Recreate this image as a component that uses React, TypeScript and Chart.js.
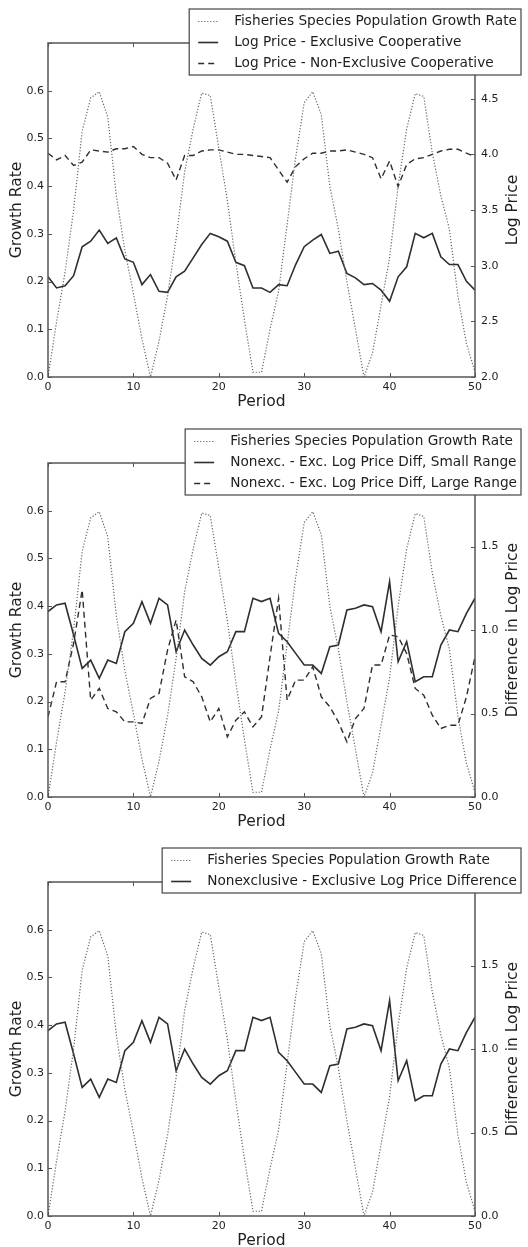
import React, { useEffect, useRef } from 'react';
import { Chart, registerables } from 'chart.js';

Chart.register(...registerables);

// ---------- data ----------
const periods = [0, 1, 2, 3, 4, 5, 6, 7, 8, 9, 10, 11, 12, 13, 14, 15, 16, 17, 18, 19, 20, 21, 22, 23, 24, 25, 26, 27, 28, 29, 30, 31, 32, 33, 34, 35, 36, 37, 38, 39, 40, 41, 42, 43, 44, 45, 46, 47, 48, 49, 50];

const growthRate = [0.0, 0.115, 0.22, 0.35, 0.515, 0.585, 0.598, 0.545, 0.38, 0.265, 0.175, 0.08, 0.0, 0.075, 0.17, 0.29, 0.43, 0.52, 0.595, 0.59, 0.48, 0.37, 0.24, 0.12, 0.01, 0.01, 0.1, 0.18, 0.32, 0.46, 0.575, 0.598, 0.55, 0.4, 0.31, 0.2, 0.1, 0.0, 0.05, 0.15, 0.25, 0.4, 0.52, 0.594, 0.588, 0.47, 0.38, 0.31, 0.17, 0.07, 0.01];

const logPriceExclusive = [2.9, 2.8, 2.82, 2.91, 3.17, 3.22, 3.32, 3.2, 3.25, 3.06, 3.03, 2.83, 2.92, 2.77, 2.76, 2.9, 2.95, 3.07, 3.19, 3.29, 3.26, 3.22, 3.03, 3.0, 2.8, 2.8, 2.76, 2.83, 2.82, 3.01, 3.17, 3.23, 3.28, 3.11, 3.13, 2.93, 2.89, 2.83, 2.84, 2.78, 2.68, 2.9, 2.99, 3.29, 3.25, 3.29, 3.08, 3.01, 3.01, 2.86, 2.78];

const logPriceNonExclusive = [4.01, 3.95, 3.99, 3.9, 3.93, 4.04, 4.03, 4.02, 4.05, 4.05, 4.07, 4.0, 3.97, 3.97, 3.92, 3.77, 3.99, 3.99, 4.03, 4.04, 4.04, 4.02, 4.0, 4.0, 3.99, 3.98, 3.97, 3.86, 3.75, 3.89, 3.96, 4.01, 4.01, 4.03, 4.03, 4.04, 4.02, 4.0, 3.97, 3.78, 3.94, 3.71, 3.91, 3.96, 3.97, 4.0, 4.03, 4.045, 4.045, 4.01, 3.98];

const diffSmallRange = [1.11, 1.15, 1.16, 0.97, 0.77, 0.82, 0.71, 0.82, 0.8, 0.99, 1.04, 1.17, 1.04, 1.19, 1.15, 0.87, 1.0, 0.91, 0.83, 0.79, 0.84, 0.87, 0.99, 0.99, 1.19, 1.17, 1.19, 0.98, 0.93, 0.86, 0.79, 0.79, 0.74, 0.9, 0.91, 1.12, 1.13, 1.15, 1.14, 0.99, 1.29, 0.81, 0.93, 0.69, 0.72, 0.72, 0.91, 1.0, 0.99, 1.1, 1.19];

const diffLargeRange = [0.48, 0.69, 0.69, 0.92, 1.24, 0.58, 0.65, 0.53, 0.51, 0.45, 0.45, 0.44, 0.59, 0.62, 0.88, 1.06, 0.72, 0.69, 0.6, 0.45, 0.53, 0.36, 0.46, 0.51, 0.42, 0.48, 0.84, 1.19, 0.58, 0.7, 0.7, 0.78, 0.6, 0.54, 0.45, 0.33, 0.47, 0.53, 0.79, 0.79, 0.97, 0.96, 0.86, 0.65, 0.61, 0.49, 0.41, 0.43, 0.43, 0.6, 0.84];

const growthLabel = 'Fisheries Species Population Growth Rate';
const panel1Labels = ['Log Price - Exclusive Cooperative', 'Log Price - Non-Exclusive Cooperative'];
const panel2Labels = ['Nonexc. - Exc. Log Price Diff, Small Range', 'Nonexc. - Exc. Log Price Diff, Large Range'];
const panel3Labels = ['Nonexclusive - Exclusive Log Price Difference'];

const xAxisTitle = 'Period';
const leftAxisTitle = 'Growth Rate';
const rightTitles = ['Log Price', 'Difference in Log Price', 'Difference in Log Price'];

// ---------- styles ----------
const FONT = '"DejaVu Sans", "Liberation Sans", sans-serif';
const TEXT = '#1e1e1e';
const SPINE = '#555555';
const LINE = '#2e2e2e';
const DOT = '#666666';

type Style = 'dotted' | 'solid' | 'dashed';
const dashFor = (s: Style) => (s === 'dotted' ? [1.2, 1.8] : s === 'dashed' ? [6, 4] : []);
const colorFor = (s: Style) => (s === 'dotted' ? DOT : LINE);
const widthFor = (s: Style) => (s === 'dotted' ? 1.2 : s === 'dashed' ? 1.4 : 1.6);

type Series = { label: string; values: number[]; style: Style; axis: 'y' | 'y1' };

type PanelProps = {
  top: number;
  height: number;
  series: Series[];
  rightMin: number;
  rightMax: number;
  rightTitle: string;
};

function overlayPlugin(series: Series[], rightTitle: string) {
  return {
    id: 'overlay',
    afterDraw(chart: any) {
      const { ctx, chartArea: a, scales } = chart;
      ctx.save();
      // inward tick marks
      ctx.strokeStyle = SPINE;
      ctx.lineWidth = 1;
      ctx.setLineDash([]);
      const seg = (x1: number, y1: number, x2: number, y2: number) => {
        ctx.beginPath();
        ctx.moveTo(x1, y1);
        ctx.lineTo(x2, y2);
        ctx.stroke();
      };
      scales.x.ticks.forEach((t: any) => {
        const px = Math.round(scales.x.getPixelForValue(t.value)) + 0.5;
        seg(px, a.bottom, px, a.bottom - 4);
        seg(px, a.top, px, a.top + 4);
      });
      scales.y.ticks.forEach((t: any) => {
        const py = Math.round(scales.y.getPixelForValue(t.value)) + 0.5;
        seg(a.left, py, a.left + 4, py);
      });
      scales.y1.ticks.forEach((t: any) => {
        const py = Math.round(scales.y1.getPixelForValue(t.value)) + 0.5;
        seg(a.right, py, a.right - 4, py);
      });
      // spines
      ctx.lineWidth = 1.5;
      ctx.strokeRect(a.left, a.top, a.right - a.left, a.bottom - a.top);

      // axis titles
      ctx.fillStyle = TEXT;
      ctx.font = `15.5px ${FONT}`;
      ctx.textAlign = 'center';
      ctx.textBaseline = 'middle';
      ctx.fillText(xAxisTitle, (a.left + a.right) / 2, a.bottom + 25);
      const cy = (a.top + a.bottom) / 2;
      ctx.save();
      ctx.translate(17, cy);
      ctx.rotate(-Math.PI / 2);
      ctx.fillText(leftAxisTitle, 0, 0);
      ctx.restore();
      ctx.save();
      ctx.translate(513, cy);
      ctx.rotate(-Math.PI / 2);
      ctx.fillText(rightTitle, 0, 0);
      ctx.restore();

      // legend
      ctx.font = `13.7px ${FONT}`;
      const tw = Math.max(...series.map((s) => ctx.measureText(s.label).width));
      const right = 521;
      const left = right - (tw + 49);
      const boxTop = a.top - 34;
      const boxH = 24 + 21 * (series.length - 1);
      ctx.fillStyle = '#ffffff';
      ctx.fillRect(left, boxTop, right - left, boxH);
      ctx.strokeStyle = '#444444';
      ctx.lineWidth = 1.2;
      ctx.strokeRect(left, boxTop, right - left, boxH);
      series.forEach((s, i) => {
        const y = boxTop + 12 + 21 * i;
        ctx.strokeStyle = colorFor(s.style);
        ctx.lineWidth = widthFor(s.style);
        ctx.setLineDash(dashFor(s.style));
        ctx.beginPath();
        ctx.moveTo(left + 9, y + 0.5);
        ctx.lineTo(left + 29, y + 0.5);
        ctx.stroke();
        ctx.setLineDash([]);
        ctx.fillStyle = TEXT;
        ctx.textAlign = 'left';
        ctx.textBaseline = 'middle';
        ctx.fillText(s.label, left + 45, y);
      });
      ctx.restore();
    },
  };
}

function Panel({ top, height, series, rightMin, rightMax, rightTitle }: PanelProps) {
  const ref = useRef<HTMLCanvasElement | null>(null);
  useEffect(() => {
    if (!ref.current) return;
    const tickFont = { family: FONT, size: 11 };
    const chart = new Chart(ref.current, {
      type: 'line',
      data: {
        datasets: series.map((s) => ({
          label: s.label,
          data: periods.map((p, i) => ({ x: p, y: s.values[i] })),
          yAxisID: s.axis,
          borderColor: colorFor(s.style),
          borderWidth: widthFor(s.style),
          borderDash: dashFor(s.style),
          pointRadius: 0,
          fill: false,
          tension: 0,
        })),
      },
      options: {
        responsive: false,
        animation: false,
        devicePixelRatio: 1,
        layout: { padding: { top: 43, left: 0, right: 0, bottom: 0 } },
        plugins: { legend: { display: false }, tooltip: { enabled: false } },
        scales: {
          x: {
            type: 'linear',
            min: 0,
            max: 50,
            grid: { display: false, drawTicks: false },
            border: { display: false },
            ticks: {
              stepSize: 10,
              autoSkip: false,
              maxRotation: 0,
              padding: 4,
              color: TEXT,
              font: tickFont,
            },
            afterFit: (s: any) => {
              s.height = height - 377;
            },
          },
          y: {
            position: 'left',
            min: 0,
            max: 0.7,
            grid: { display: false, drawTicks: false },
            border: { display: false },
            ticks: {
              stepSize: 0.1,
              padding: 4,
              color: TEXT,
              font: tickFont,
              callback: (v: any) => (Number(v) > 0.65 ? '' : Number(v).toFixed(1)),
            },
            afterFit: (s: any) => {
              s.width = 48;
            },
          },
          y1: {
            position: 'right',
            min: rightMin,
            max: rightMax,
            grid: { display: false, drawTicks: false },
            border: { display: false },
            ticks: {
              stepSize: 0.5,
              padding: 6,
              color: TEXT,
              font: tickFont,
              callback: (v: any) => (Number(v) > rightMax - 0.25 ? '' : Number(v).toFixed(1)),
            },
            afterFit: (s: any) => {
              s.width = 53;
            },
          },
        },
      },
      plugins: [overlayPlugin(series, rightTitle)],
    } as any);
    return () => chart.destroy();
  }, []);
  return (
    <div style={{ position: 'absolute', left: 0, top, width: 528, height }}>
      <canvas ref={ref} width={528} height={height} style={{ display: 'block' }} />
    </div>
  );
}

export default function App() {
  const growth: Series = { label: growthLabel, values: growthRate, style: 'dotted', axis: 'y' };
  return (
    <div style={{ position: 'absolute', left: 0, top: 0, width: 528, height: 1247, background: '#fff', overflow: 'hidden' }}>
      <Panel
        top={0}
        height={420}
        rightMin={2}
        rightMax={5}
        rightTitle={rightTitles[0]}
        series={[
          growth,
          { label: panel1Labels[0], values: logPriceExclusive, style: 'solid', axis: 'y1' },
          { label: panel1Labels[1], values: logPriceNonExclusive, style: 'dashed', axis: 'y1' },
        ]}
      />
      <Panel
        top={420}
        height={420}
        rightMin={0}
        rightMax={2}
        rightTitle={rightTitles[1]}
        series={[
          growth,
          { label: panel2Labels[0], values: diffSmallRange, style: 'solid', axis: 'y1' },
          { label: panel2Labels[1], values: diffLargeRange, style: 'dashed', axis: 'y1' },
        ]}
      />
      <Panel
        top={839}
        height={408}
        rightMin={0}
        rightMax={2}
        rightTitle={rightTitles[2]}
        series={[growth, { label: panel3Labels[0], values: diffSmallRange, style: 'solid', axis: 'y1' }]}
      />
    </div>
  );
}
